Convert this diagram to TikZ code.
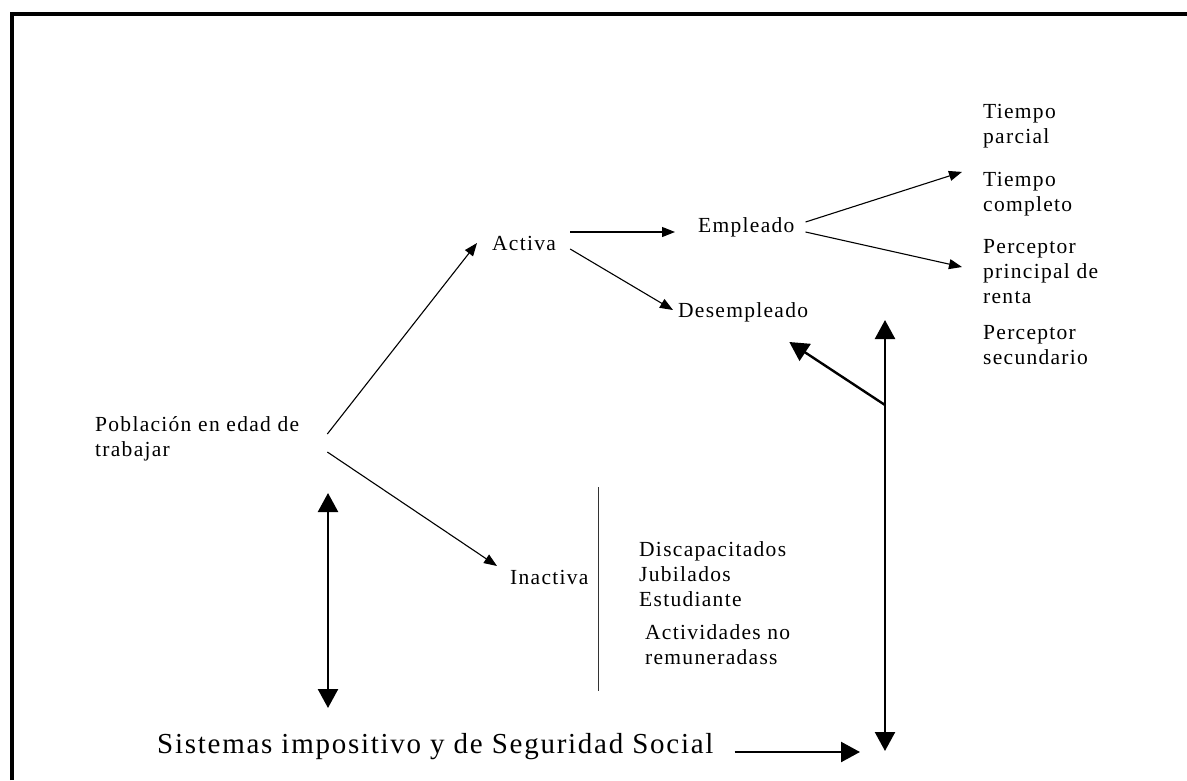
\documentclass[tikz,border=0pt]{standalone}
\usepackage{fontspec}
\setmainfont{Liberation Serif}[LetterSpace=6]
\usetikzlibrary{arrows.meta}

\tikzset{
	lbl/.style={anchor=west, inner sep=0pt, align=left, font=\fontsize{21.5}{25}\selectfont},
	thinarrow/.style={line width=1.1pt, -{Triangle[length=13pt,width=10pt]}},
	thickarrow/.style={line width=2.4pt, -{Triangle[length=19pt,width=20pt]}},
	thickboth/.style={line width=2.4pt, {Triangle[length=19pt,width=20pt]}-{Triangle[length=19pt,width=20pt]}}
}

\begin{document}
\begin{tikzpicture}[x=1pt,y=-1pt]
			\useasboundingbox (0,0) rectangle (1187,780);
			\draw[line width=3.5pt] (12,780) -- (12,14) -- (1187,14); % frame
			% labels
			\node[lbl] (pob) at (95,439) {Población en edad de\\trabajar};
			\node[lbl] (activa) at (492,243) {Activa};
			\node[lbl] (inactiva) at (510,577) {Inactiva};
			\node[lbl] (empleado) at (698,227) {Empleado};
			\node[lbl] (desemp) at (678,312) {Desempleado};
			\node[lbl] (tparc) at (983,126) {Tiempo\\parcial};
			\node[lbl] (tcomp) at (983,194) {Tiempo\\completo};
			\node[lbl] (pprin) at (983,272) {Perceptor\\principal de\\renta};
			\node[lbl] (psec) at (983,345) {Perceptor\\secundario};
			\node[lbl] (inact1) at (639,574) {Discapacitados\\Jubilados\\Estudiante};
			\node[lbl] (inact2) at (645,645) {Actividades no\\remuneradass};
			\node[anchor=west, inner sep=0pt, font=\fontsize{29}{34}\selectfont] (sist) at (157,747) {Sistemas impositivo y de Seguridad Social};
			% thin arrows
			\draw[thinarrow] ([xshift=28pt,yshift=5pt]pob.east) -- ([xshift=-15pt]activa.west);
			\draw[thinarrow] ([xshift=28pt,yshift=-13pt]pob.east) -- ([xshift=-13pt,yshift=11pt]inactiva.west);
			\draw[thinarrow] ([xshift=14pt,yshift=11pt]activa.east) -- ([xshift=-23pt,yshift=-5pt]empleado.west);
			\draw[thinarrow] ([xshift=14pt,yshift=-6pt]activa.east) -- ([xshift=-5pt,yshift=2pt]desemp.west);
			\draw[thinarrow] ([xshift=11pt,yshift=5pt]empleado.east) -- ([xshift=-21pt]tcomp.north west);
			\draw[thinarrow] ([xshift=11pt,yshift=-5pt]empleado.east) -- ([xshift=-21pt,yshift=5pt]pprin.west);
			% bar beside Inactiva
			\draw[line width=1.4pt, black!80] ([xshift=10pt,yshift=90pt]inactiva.east) -- ([xshift=10pt,yshift=-114pt]inactiva.east);
			% thick arrows
			\coordinate (lt) at (328,493);
			\coordinate (lb) at (328,708);
			\coordinate (rt) at (885,320);
			\coordinate (rb) at (885,751);
			\coordinate (rm) at (885,405);
			\coordinate (sb) at (860,752);
			\draw[thickboth] (lt) -- (lb); % left double arrow
			\draw[thickboth] (rt) -- (rb); % right double arrow
			\draw[thickarrow] (rm) -- ([xshift=-19pt,yshift=-30pt]desemp.east);
			\draw[thickarrow] ([xshift=21pt,yshift=-5pt]sist.east) -- (sb);
\end{tikzpicture}
\end{document}
